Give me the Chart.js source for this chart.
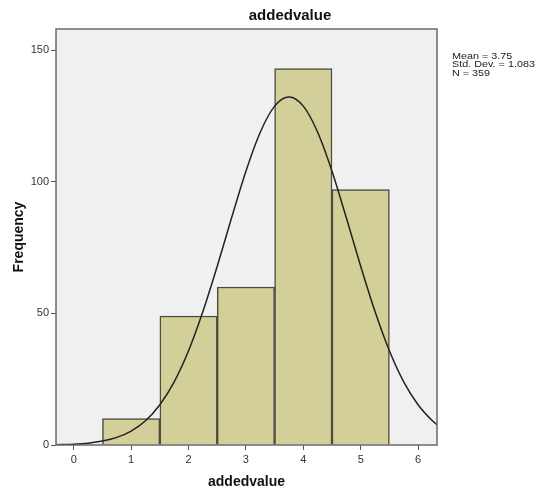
<!DOCTYPE html>
<html>
<head>
<meta charset="utf-8">
<script src="https://cdn.jsdelivr.net/npm/chart.js@4/dist/chart.umd.min.js"></script>
<style>
  html, body { margin: 0; padding: 0; background: #fff; }
  #wrap { width: 540px; height: 491px; }
</style>
</head>
<body>
<div id="wrap"><canvas id="histChart"></canvas></div>
<script>
// histogram bins (centres) and frequencies
var binCenters = [1, 2, 3, 4, 5];
var counts = [10, 49, 60, 143, 97];

// normal curve
var curveX = [-0.3, 0, 0.25, 0.5, 0.75, 1, 1.25, 1.5, 1.75, 2, 2.25, 2.5, 2.75, 3, 3.25, 3.5, 3.75, 4, 4.25, 4.5, 4.75, 5, 5.25, 5.5, 5.75, 6, 6.25, 6.33];
var curveY = [0.1, 0.3, 0.7, 1.5, 2.9, 5.3, 9.2, 15.3, 24.0, 35.8, 50.7, 67.9, 86.3, 104.0, 118.8, 128.7, 132.2, 128.7, 118.8, 104.0, 86.3, 67.9, 50.7, 35.8, 24.0, 15.3, 9.2, 7.7];

var xTicks = [0, 1, 2, 3, 4, 5, 6];
var yTicks = [0, 50, 100, 150];
var statLines = ['Mean = 3.75', 'Std. Dev. = 1.083', 'N = 359'];
var chartTitle = 'addedvalue';

var FONT = "'Liberation Sans', Arial, sans-serif";

var barData = binCenters.map(function(c, i) { return {x: c, y: counts[i]}; });
var lineData = curveX.map(function(x, i) { return {x: x, y: curveY[i]}; });

// grey plot background, frame, title and stats box
var spssDecor = {
    id: 'spssDecor',
    beforeDatasetsDraw: function(chart) {
        var a = chart.chartArea, ctx = chart.ctx;
        ctx.save();
        ctx.fillStyle = 'rgb(240,240,240)';
        ctx.fillRect(a.left, a.top, a.right - a.left, a.bottom - a.top);
        ctx.restore();
    },
    afterDatasetsDraw: function(chart) {
        var a = chart.chartArea, ctx = chart.ctx;
        ctx.save();
        ctx.strokeStyle = 'rgb(105,105,105)';
        ctx.lineWidth = 1.5;
        ctx.strokeRect(a.left, a.top, a.right - a.left, a.bottom - a.top);

        ctx.fillStyle = '#111';
        ctx.font = 'bold 15px ' + FONT;
        ctx.textAlign = 'center';
        ctx.textBaseline = 'middle';
        ctx.fillText(chartTitle, 290, 16);

        // stats text is slightly wide in the original, stretch it a bit
        ctx.font = '9px ' + FONT;
        ctx.textAlign = 'left';
        ctx.textBaseline = 'alphabetic';
        ctx.fillStyle = '#222';
        ctx.translate(452, 0);
        ctx.scale(1.2, 1);
        statLines.forEach(function(t, i) {
            ctx.fillText(t, 0, 58.5 + i * 8.6);
        });
        ctx.restore();
    }
};

var ctx = document.getElementById('histChart');
var histChart = new Chart(ctx, {
    type: 'bar',
    data: {
        datasets: [{
            type: 'line',
            data: lineData,
            borderColor: '#222',
            borderWidth: 1.5,
            pointRadius: 0,
            fill: false,
            cubicInterpolationMode: 'monotone',
            order: 0
        }, {
            type: 'bar',
            data: barData,
            backgroundColor: 'rgb(211,207,152)',
            borderColor: 'rgb(75,75,62)',
            borderWidth: 1.5,
            barPercentage: 1,
            categoryPercentage: 1,
            grouped: false,
            order: 1
        }]
    },
    options: {
        responsive: true,
        maintainAspectRatio: false,
        animation: false,
        layout: { padding: { top: 29, right: 103, left: 0, bottom: 0 } },
        plugins: {
            legend: { display: false },
            tooltip: { enabled: false }
        },
        scales: {
            x: {
                type: 'linear',
                offset: false,
                min: -0.31,
                max: 6.33,
                afterFit: function(s) { s.height = 46; },
                afterBuildTicks: function(s) { s.ticks = xTicks.map(function(v) { return {value: v}; }); },
                ticks: { padding: 3, color: '#333', font: { family: FONT, size: 11 } },
                grid: { offset: false, drawOnChartArea: false, tickLength: 5, color: '#555' },
                border: { display: false },
                title: {
                    display: true,
                    text: 'addedvalue',
                    color: '#111',
                    padding: { top: 0, bottom: 0 },
                    font: { family: FONT, size: 14, weight: 'bold' }
                }
            },
            y: {
                min: 0,
                max: 158,
                afterFit: function(s) { s.width = 56; },
                afterBuildTicks: function(s) { s.ticks = yTicks.map(function(v) { return {value: v}; }); },
                ticks: { padding: 2, color: '#333', font: { family: FONT, size: 11 } },
                grid: { drawOnChartArea: false, tickLength: 5, color: '#555' },
                border: { display: false },
                title: {
                    display: true,
                    text: 'Frequency',
                    color: '#111',
                    padding: { top: 11, bottom: 0 },
                    font: { family: FONT, size: 14, weight: 'bold' }
                }
            }
        }
    },
    plugins: [spssDecor]
});
</script>
</body>
</html>
